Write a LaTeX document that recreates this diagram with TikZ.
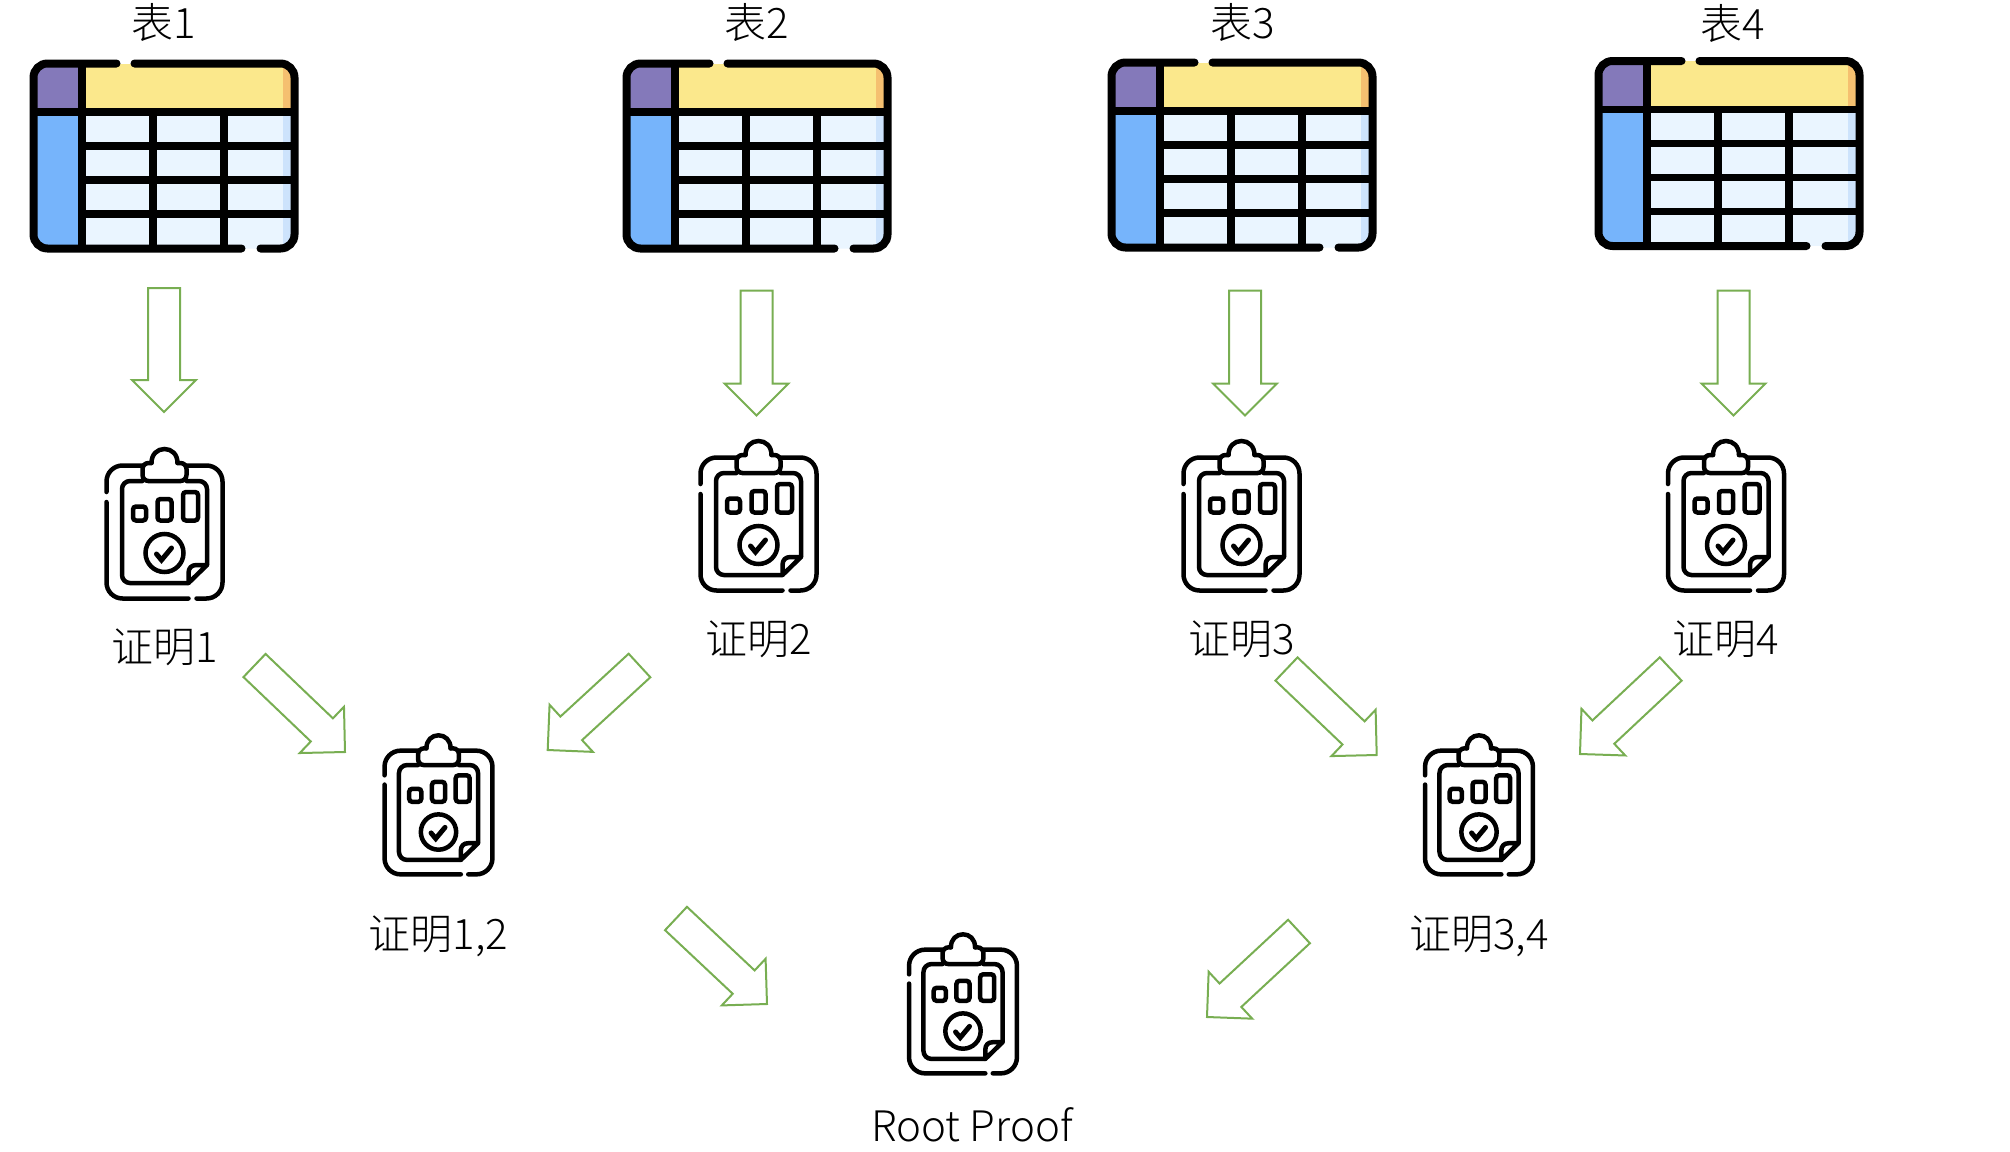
\documentclass[tikz,border=0pt]{standalone}
\usepackage{fontspec}
\setmainfont{Noto Sans CJK SC Light}
\usetikzlibrary{positioning, calc}

\definecolor{arrowgreen}{HTML}{78AE52}
\definecolor{headpurple}{HTML}{8479BA}
\definecolor{headyellow}{HTML}{FBE88C}
\definecolor{headorange}{HTML}{F5C070}
\definecolor{rowblue}{HTML}{76B4FB}
\definecolor{cellblue}{HTML}{EAF5FF}
\definecolor{cellshade}{HTML}{CDE3FC}

\tikzset{
  % spreadsheet icon, 261 x 185 between the centres of its outline
  sheet/.pic = {
    \begin{scope}
      \clip[rounded corners=7pt] (-130.5,-92.5) rectangle (130.5,92.5);
      \fill[headpurple] (-130.5,-92.5) rectangle (-82,-44);
      \fill[headyellow] (-82,-92.5) rectangle (130.5,-44);
      \fill[headorange] (119,-92.5) rectangle (130.5,-44);
      \fill[rowblue] (-130.5,-44) rectangle (-82,92.5);
      \fill[cellblue] (-82,-44) rectangle (130.5,92.5);
      \fill[cellshade] (119,-44) rectangle (130.5,92.5);
    \end{scope}
    \draw[line width=3.75pt] (-82,-92.5) -- (-82,92.5);
    \draw[line width=3.75pt] (-130.5,-44) -- (130.5,-44);
    \foreach \rowy in {-10,24,58}
      \draw[line width=3.75pt] (-82,\rowy) -- (130.5,\rowy);
    \foreach \colx in {-11,60}
      \draw[line width=3.75pt] (\colx,-44) -- (\colx,92.5);
    \draw[line width=4pt, line cap=round, rounded corners=7pt]
      (-47.5,-92.5) -- (-130.5,-92.5) -- (-130.5,92.5) -- (77.5,92.5)
      (96.5,92.5) -- (130.5,92.5) -- (130.5,-92.5) -- (-29.5,-92.5);
  },
  % clipboard icon with three bars and a tick
  clipboard/.pic = {
    \begin{scope}[line width=2.25pt, line cap=round]
      \draw[rounded corners=8pt] (-22,-66.5) -- (-58,-66.5) -- (-58,-40)
        (-58,-30) -- (-58,66.5) -- (24,66.5)
        (32,66.5) -- (58,66.5) -- (58,-66.5) -- (22,-66.5);
      \draw[rounded corners=4pt] (-22,-51) -- (-42.5,-51) -- (-42.5,51) -- (24,51)
        (42.5,33) -- (42.5,-51) -- (22,-51);
      \draw[line join=round] (24,51) -- (42.5,33) -- (32,33)
        .. controls (27,33) and (24,36) .. (24,41) -- cycle;
      % clip on top
      \draw[rounded corners=3pt] (13,-69) -- (22,-69) -- (22,-51) -- (-22,-51) -- (-22,-69) -- (-13,-69);
      \draw (-13,-69) .. controls (-13,-78) and (-7,-83) .. (0,-83)
        .. controls (7,-83) and (13,-78) .. (13,-69);
      % bars
      \draw[rounded corners=1.5pt] (-31.5,-25.5) rectangle (-18.5,-11.5);
      \draw[rounded corners=1.5pt] (-7,-33) rectangle (7,-11.5);
      \draw[rounded corners=1.5pt] (18.5,-40) rectangle (33.5,-11.5);
      % tick
      \draw (0,21) circle [radius=19];
      \draw[line width=2.5pt] (-8,22) -- (-3,28) -- (7,16);
    \end{scope}
  }
}

\begin{document}
\begin{tikzpicture}[
  x=0.5pt, y=-0.5pt,
  sheetbox/.style = {minimum width=134pt, minimum height=96pt, inner sep=0pt, outer sep=0pt},
  proofbox/.style = {minimum width=60pt, minimum height=68pt, inner sep=0pt, outer sep=0pt},
  smallproofbox/.style = {minimum width=56pt, minimum height=63.5pt, inner sep=0pt, outer sep=0pt},
  caption/.style = {font=\fontsize{21pt}{25pt}\selectfont, text height=17pt, text depth=3pt, inner sep=0pt, outer sep=0pt},
  blockarrow/.style = {draw=arrowgreen, line width=1pt, to path={
    let \p1=($(\tikztotarget)!16pt!(\tikztostart)$) in
    ($(\tikztostart)!8pt!90:(\tikztotarget)$) -- ($(\p1)!8pt!90:(\tikztotarget)$)
    -- ($(\p1)!16pt!90:(\tikztotarget)$) -- (\tikztotarget)
    -- ($(\p1)!16pt!-90:(\tikztotarget)$) -- ($(\p1)!8pt!-90:(\tikztotarget)$)
    -- ($(\tikztostart)!8pt!-90:(\tikztotarget)$) -- cycle}}
]

  \useasboundingbox (0,0) rectangle (2010,1152);

  % Tables
  \node[sheetbox] (table1) at (164,156) {};
  \node[sheetbox] (table2) at (757,156) {};
  \node[sheetbox] (table3) at (1242,155) {};
  \node[sheetbox] (table4) at (1729,153.5) {};
  \foreach \tablename in {table1,table2,table3,table4}
    \pic at (\tablename) {sheet};

  % Proofs
  \node[proofbox] (proof1) at (164.5,532) {};
  \node[proofbox] (proof2) at (758.5,524) {};
  \node[proofbox] (proof3) at (1241.5,524) {};
  \node[proofbox] (proof4) at (1726,524) {};
  \foreach \proofname in {proof1,proof2,proof3,proof4}
    \pic at (\proofname) {clipboard};

  \node[smallproofbox] (proof12) at (438.5,812.5) {};
  \node[smallproofbox] (proof34) at (1479,812.5) {};
  \node[smallproofbox] (root) at (963,1011.5) {};
  \foreach \proofname in {proof12,proof34,root}
    \pic[scale=0.93] at (\proofname) {clipboard};

  % Labels
  \node[caption, above=8pt of table1] (table1label) {表1};
  \node[caption, above=8pt of table2] (table2label) {表2};
  \node[caption, above=7.5pt of table3, xshift=0.5pt] (table3label) {表3};
  \node[caption, above=6pt of table4, xshift=2pt] (table4label) {表4};
  \node[caption, below=14pt of proof1] (proof1label) {证明1};
  \node[caption, below=14pt of proof2] (proof2label) {证明2};
  \node[caption, below=14pt of proof3] (proof3label) {证明3};
  \node[caption, below=14pt of proof4] (proof4label) {证明4};
  \node[caption, below=19.5pt of proof12] (proof12label) {证明1,2};
  \node[caption, below=19.5pt of proof34] (proof34label) {证明3,4};
  \node[caption, below=16pt of root, xshift=4.5pt] (rootlabel) {Root Proof};

  % Table to proof
  \draw[blockarrow] ([shift={(0,132)}]table1.center) to ([shift={(-0.5,-120)}]proof1.center);
  \draw[blockarrow] ([shift={(-0.5,134.5)}]table2.center) to ([shift={(-2,-108.5)}]proof2.center);
  \draw[blockarrow] ([shift={(3,135.5)}]table3.center) to ([shift={(3.5,-108.5)}]proof3.center);
  \draw[blockarrow] ([shift={(4.5,137)}]table4.center) to ([shift={(7.5,-108.5)}]proof4.center);

  % Merging proofs
  \draw[blockarrow] ([shift={(90,133.5)}]proof1.center) to ([shift={(-93.5,-60.5)}]proof12.center);
  \draw[blockarrow] ([shift={(-119,141.5)}]proof2.center) to ([shift={(109.2,-62.5)}]proof12.center);
  \draw[blockarrow] ([shift={(45,145)}]proof3.center) to ([shift={(-102.3,-57.5)}]proof34.center);
  \draw[blockarrow] ([shift={(-55.3,145)}]proof4.center) to ([shift={(101,-58.5)}]proof34.center);
  \draw[blockarrow] ([shift={(237.5,106)}]proof12.center) to ([shift={(-196,-7.5)}]root.center);
  \draw[blockarrow] ([shift={(-180,119)}]proof34.center) to ([shift={(244,5.5)}]root.center);

\end{tikzpicture}
\end{document}
